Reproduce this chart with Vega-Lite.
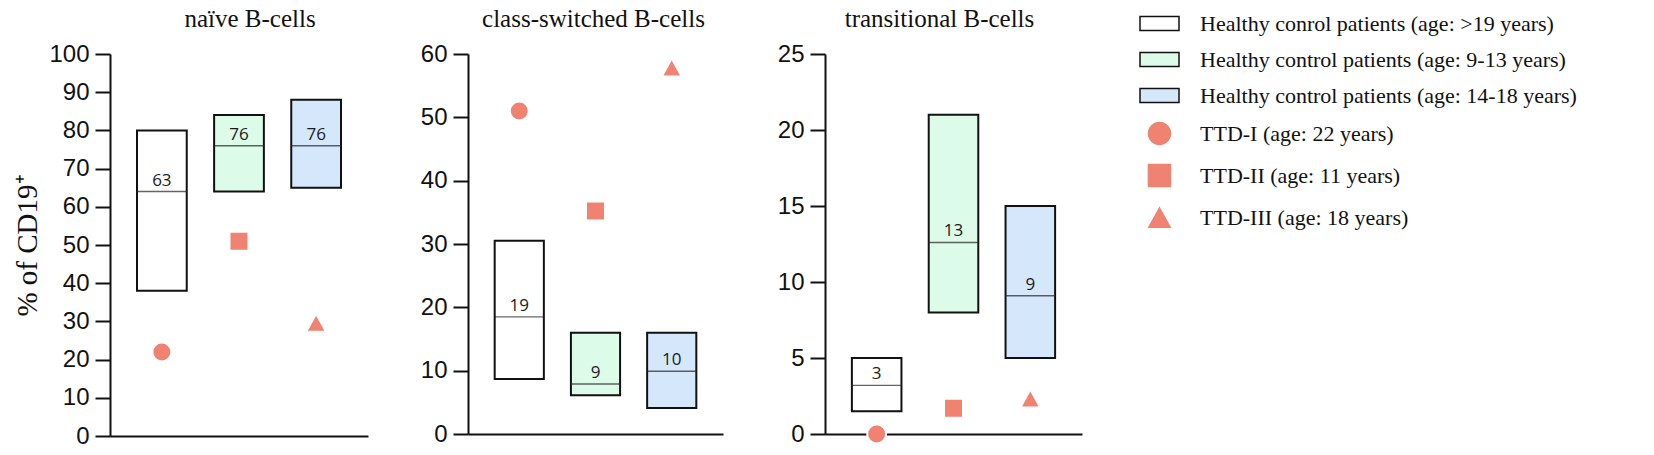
{
  "$schema": "https://vega.github.io/schema/vega-lite/v6.json",
  "padding": {"left": 13, "top": 7, "right": 0, "bottom": 0},
  "spacing": 52,
  "datasets": {
    "boxes": [
      {"panel": "naive", "slot": 1, "group": "Healthy conrol patients (age: >19 years)", "lo": 38, "hi": 80, "med": 64, "label": "63"},
      {"panel": "naive", "slot": 2, "group": "Healthy control patients (age: 9-13 years)", "lo": 64, "hi": 84, "med": 76, "label": "76"},
      {"panel": "naive", "slot": 3, "group": "Healthy control patients (age: 14-18 years)", "lo": 65, "hi": 88, "med": 76, "label": "76"},
      {"panel": "switched", "slot": 1, "group": "Healthy conrol patients (age: >19 years)", "lo": 8.7, "hi": 30.5, "med": 18.5, "label": "19"},
      {"panel": "switched", "slot": 2, "group": "Healthy control patients (age: 9-13 years)", "lo": 6.1, "hi": 16, "med": 7.9, "label": "9"},
      {"panel": "switched", "slot": 3, "group": "Healthy control patients (age: 14-18 years)", "lo": 4.1, "hi": 16, "med": 9.9, "label": "10"},
      {"panel": "transitional", "slot": 1, "group": "Healthy conrol patients (age: >19 years)", "lo": 1.5, "hi": 5, "med": 3.2, "label": "3"},
      {"panel": "transitional", "slot": 2, "group": "Healthy control patients (age: 9-13 years)", "lo": 8, "hi": 21, "med": 12.6, "label": "13"},
      {"panel": "transitional", "slot": 3, "group": "Healthy control patients (age: 14-18 years)", "lo": 5, "hi": 15, "med": 9.1, "label": "9"}
    ],
    "pts": [
      {"panel": "naive", "slot": 1, "group": "TTD-I (age: 22 years)", "value": 22},
      {"panel": "naive", "slot": 2, "group": "TTD-II (age: 11 years)", "value": 51},
      {"panel": "naive", "slot": 3, "group": "TTD-III  (age: 18 years)", "value": 29.5},
      {"panel": "switched", "slot": 1, "group": "TTD-I (age: 22 years)", "value": 51},
      {"panel": "switched", "slot": 2, "group": "TTD-II (age: 11 years)", "value": 35.2},
      {"panel": "switched", "slot": 3, "group": "TTD-III  (age: 18 years)", "value": 57.8},
      {"panel": "transitional", "slot": 1, "group": "TTD-I (age: 22 years)", "value": 0},
      {"panel": "transitional", "slot": 2, "group": "TTD-II (age: 11 years)", "value": 1.7},
      {"panel": "transitional", "slot": 3, "group": "TTD-III  (age: 18 years)", "value": 2.3}
    ]
  },
  "hconcat": [
    {
      "width": 258,
      "height": 382,
      "title": {"text": "naïve B-cells", "dx": 11},
      "encoding": {
        "x": {"field": "slot", "type": "ordinal", "scale": {"domain": [1, 2, 3], "paddingInner": 0.355, "paddingOuter": 0.35}, "axis": {"labels": false, "ticks": false, "title": null}}
      },
      "layer": [
        {
          "data": {"name": "boxes"},
          "transform": [{"filter": "datum.panel === 'naive'"}],
          "mark": {"type": "bar", "strokeWidth": 2},
          "encoding": {
            "y": {"field": "lo", "type": "quantitative", "scale": {"domain": [0, 100], "nice": false}, "axis": {"values": [0, 10, 20, 30, 40, 50, 60, 70, 80, 90, 100], "tickCount": 11, "labelOverlap": false, "title": "% of CD19⁺"}},
            "y2": {"field": "hi"},
            "fill": {"field": "group", "type": "nominal", "scale": {"domain": ["Healthy conrol patients (age: >19 years)", "Healthy control patients (age: 9-13 years)", "Healthy control patients (age: 14-18 years)", "TTD-I (age: 22 years)", "TTD-II (age: 11 years)", "TTD-III  (age: 18 years)"], "range": ["#ffffff", "#dcfbe8", "#d5e8fb", "#f08272", "#f08272", "#f08272"]}, "legend": {"title": null, "orient": "none", "legendX": 1036, "legendY": -44}},
            "stroke": {"field": "group", "type": "nominal", "scale": {"domain": ["Healthy conrol patients (age: >19 years)", "Healthy control patients (age: 9-13 years)", "Healthy control patients (age: 14-18 years)", "TTD-I (age: 22 years)", "TTD-II (age: 11 years)", "TTD-III  (age: 18 years)"], "range": ["#111111", "#111111", "#111111", "#ffffff", "#ffffff", "#ffffff"]}, "legend": {"title": null, "orient": "none", "legendX": 1036, "legendY": -44}}
          }
        },
        {
          "data": {"name": "boxes"},
          "transform": [{"filter": "datum.panel === 'naive'"}],
          "mark": {"type": "tick", "size": 50, "thickness": 1.4, "color": "#222222"},
          "encoding": {"y": {"field": "med", "type": "quantitative", "axis": {"values": [0, 10, 20, 30, 40, 50, 60, 70, 80, 90, 100], "tickCount": 11, "labelOverlap": false, "title": "% of CD19⁺"}}}
        },
        {
          "data": {"name": "boxes"},
          "transform": [{"filter": "datum.panel === 'naive'"}],
          "mark": {"type": "text", "font": "Open Sans", "fontSize": 17, "baseline": "alphabetic", "dy": -6, "color": "#1a1a1a"},
          "encoding": {"y": {"field": "med", "type": "quantitative", "axis": {"values": [0, 10, 20, 30, 40, 50, 60, 70, 80, 90, 100], "tickCount": 11, "labelOverlap": false, "title": "% of CD19⁺"}}, "text": {"field": "label"}}
        },
        {
          "data": {"name": "pts"},
          "transform": [{"filter": "datum.panel === 'naive'"}],
          "mark": {"type": "point", "filled": true, "size": 361, "strokeWidth": 2, "opacity": 1},
          "encoding": {
            "y": {"field": "value", "type": "quantitative", "axis": {"values": [0, 10, 20, 30, 40, 50, 60, 70, 80, 90, 100], "tickCount": 11, "labelOverlap": false, "title": "% of CD19⁺"}},
            "shape": {"field": "group", "type": "nominal", "scale": {"domain": ["Healthy conrol patients (age: >19 years)", "Healthy control patients (age: 9-13 years)", "Healthy control patients (age: 14-18 years)", "TTD-I (age: 22 years)", "TTD-II (age: 11 years)", "TTD-III  (age: 18 years)"], "range": ["M-1.56,-0.56H1.56V0.56H-1.56Z", "M-1.56,-0.56H1.56V0.56H-1.56Z", "M-1.56,-0.56H1.56V0.56H-1.56Z", "circle", "square", "M0,-1L1.05,0.9H-1.05Z"]}, "legend": {"title": null, "orient": "none", "legendX": 1036, "legendY": -44}},
            "fill": {"field": "group", "type": "nominal"},
            "stroke": {"field": "group", "type": "nominal"}
          }
        }
      ]
    },
    {
      "width": 255,
      "height": 380,
      "title": {"text": "class-switched B-cells", "dx": -2},
      "encoding": {
        "x": {"field": "slot", "type": "ordinal", "scale": {"domain": [1, 2, 3], "paddingInner": 0.355, "paddingOuter": 0.35}, "axis": {"labels": false, "ticks": false, "title": null}}
      },
      "layer": [
        {
          "data": {"name": "boxes"},
          "transform": [{"filter": "datum.panel === 'switched'"}],
          "mark": {"type": "bar", "strokeWidth": 2},
          "encoding": {
            "y": {"field": "lo", "type": "quantitative", "scale": {"domain": [0, 60], "nice": false}, "axis": {"values": [0, 10, 20, 30, 40, 50, 60], "title": null}},
            "y2": {"field": "hi"},
            "fill": {"field": "group", "type": "nominal"},
            "stroke": {"field": "group", "type": "nominal"}
          }
        },
        {
          "data": {"name": "boxes"},
          "transform": [{"filter": "datum.panel === 'switched'"}],
          "mark": {"type": "tick", "size": 49, "thickness": 1.4, "color": "#222222"},
          "encoding": {"y": {"field": "med", "type": "quantitative"}}
        },
        {
          "data": {"name": "boxes"},
          "transform": [{"filter": "datum.panel === 'switched'"}],
          "mark": {"type": "text", "font": "Open Sans", "fontSize": 17, "baseline": "alphabetic", "dy": -6, "color": "#1a1a1a"},
          "encoding": {"y": {"field": "med", "type": "quantitative"}, "text": {"field": "label"}}
        },
        {
          "data": {"name": "pts"},
          "transform": [{"filter": "datum.panel === 'switched'"}],
          "mark": {"type": "point", "filled": true, "size": 361, "strokeWidth": 2, "opacity": 1},
          "encoding": {
            "y": {"field": "value", "type": "quantitative"},
            "shape": {"field": "group", "type": "nominal"},
            "fill": {"field": "group", "type": "nominal"},
            "stroke": {"field": "group", "type": "nominal"}
          }
        }
      ]
    },
    {
      "width": 257,
      "height": 380,
      "title": {"text": "transitional B-cells", "dx": -14},
      "encoding": {
        "x": {"field": "slot", "type": "ordinal", "scale": {"domain": [1, 2, 3], "paddingInner": 0.355, "paddingOuter": 0.35}, "axis": {"labels": false, "ticks": false, "title": null}}
      },
      "layer": [
        {
          "data": {"name": "boxes"},
          "transform": [{"filter": "datum.panel === 'transitional'"}],
          "mark": {"type": "bar", "strokeWidth": 2},
          "encoding": {
            "y": {"field": "lo", "type": "quantitative", "scale": {"domain": [0, 25], "nice": false}, "axis": {"values": [0, 5, 10, 15, 20, 25], "title": null, "minExtent": 50}},
            "y2": {"field": "hi"},
            "fill": {"field": "group", "type": "nominal"},
            "stroke": {"field": "group", "type": "nominal"}
          }
        },
        {
          "data": {"name": "boxes"},
          "transform": [{"filter": "datum.panel === 'transitional'"}],
          "mark": {"type": "tick", "size": 50, "thickness": 1.4, "color": "#222222"},
          "encoding": {"y": {"field": "med", "type": "quantitative"}}
        },
        {
          "data": {"name": "boxes"},
          "transform": [{"filter": "datum.panel === 'transitional'"}],
          "mark": {"type": "text", "font": "Open Sans", "fontSize": 17, "baseline": "alphabetic", "dy": -6, "color": "#1a1a1a"},
          "encoding": {"y": {"field": "med", "type": "quantitative"}, "text": {"field": "label"}}
        },
        {
          "data": {"name": "pts"},
          "transform": [{"filter": "datum.panel === 'transitional'"}],
          "mark": {"type": "point", "filled": true, "size": 361, "strokeWidth": 2, "opacity": 1},
          "encoding": {
            "y": {"field": "value", "type": "quantitative"},
            "shape": {"field": "group", "type": "nominal"},
            "fill": {"field": "group", "type": "nominal"},
            "stroke": {"field": "group", "type": "nominal"}
          }
        }
      ]
    }
  ],
  "resolve": {"scale": {"x": "independent", "y": "independent"}},
  "config": {
    "view": {"stroke": null},
    "axis": {"grid": false, "domainColor": "#111111", "tickColor": "#111111", "labelColor": "#111111", "domainWidth": 2, "tickWidth": 2},
    "axisY": {"tickSize": 15, "labelPadding": 6, "labelFont": "Liberation Sans", "labelFontSize": 24, "labelOverlap": false, "titleFont": "Liberation Serif", "titleFontSize": 29, "titleFontWeight": "normal", "titleColor": "#111111", "titlePadding": 6},
    "title": {"font": "Liberation Serif", "fontSize": 25, "fontWeight": "normal", "color": "#111111", "offset": 10, "anchor": "middle", "frame": "group"},
    "legend": {"labelFont": "Liberation Serif", "labelFontSize": 22, "labelColor": "#111111", "symbolSize": 625, "symbolStrokeWidth": 1.5, "rowPadding": 11, "labelOffset": 27, "labelLimit": 600}
  }
}
